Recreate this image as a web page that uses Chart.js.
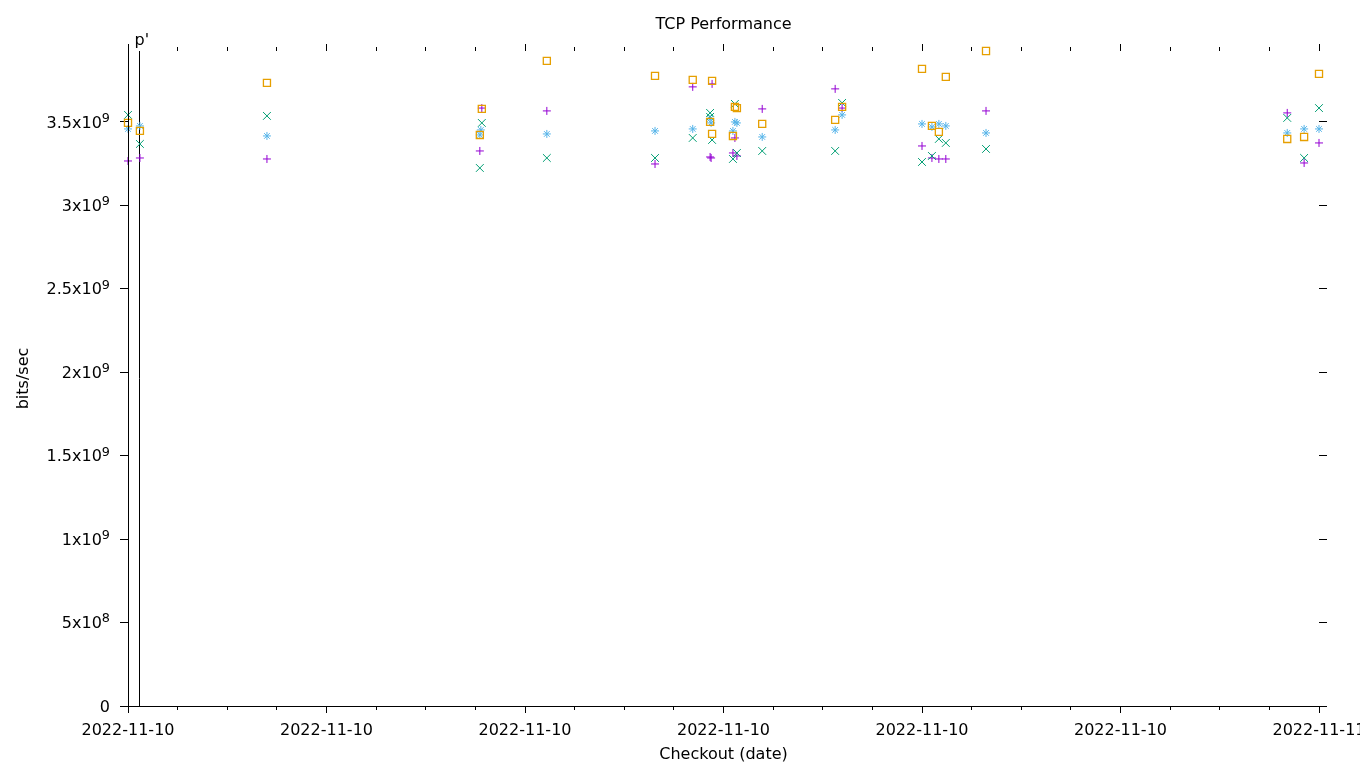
<!DOCTYPE html>
<html>
<head>
<meta charset="utf-8">
<title>TCP Performance</title>
<script src="https://cdn.jsdelivr.net/npm/chart.js@4.4.1/dist/chart.umd.min.js"></script>
<style>
    html, body { margin: 0; padding: 0; background: #fff; }
    #chart { display: block; }
</style>
</head>
<body>
<canvas id="chart" width="1360" height="768"></canvas>
<script>
// Hours since 2022-11-10 00:00 (one major x tick = 4 hours), values in bits/sec
const purpleHours = [0.00, 0.24, 2.80, 7.09, 7.13, 8.44, 10.62, 11.38, 11.73, 11.75, 11.77, 12.19, 12.23, 12.27, 12.78, 14.25, 14.39, 16.00, 16.20, 16.34, 16.48, 17.29, 23.36, 23.70, 24.00];
const purpleValues = [3.266e9, 3.284e9, 3.278e9, 3.326e9, 3.583e9, 3.566e9, 3.248e9, 3.710e9, 3.290e9, 3.284e9, 3.728e9, 3.314e9, 3.404e9, 3.296e9, 3.578e9, 3.698e9, 3.583e9, 3.356e9, 3.284e9, 3.278e9, 3.278e9, 3.566e9, 3.554e9, 3.254e9, 3.374e9];

const greenHours = [0.00, 0.24, 2.80, 7.09, 7.13, 8.44, 10.62, 11.38, 11.73, 11.73, 11.77, 12.19, 12.23, 12.27, 12.78, 14.25, 14.39, 16.00, 16.20, 16.34, 16.48, 17.29, 23.36, 23.70, 24.00];
const greenValues = [3.542e9, 3.368e9, 3.536e9, 3.224e9, 3.494e9, 3.284e9, 3.284e9, 3.404e9, 3.554e9, 3.530e9, 3.392e9, 3.278e9, 3.608e9, 3.314e9, 3.326e9, 3.326e9, 3.614e9, 3.260e9, 3.296e9, 3.398e9, 3.374e9, 3.338e9, 3.524e9, 3.284e9, 3.583e9];

const blueHours = [0.00, 0.24, 2.80, 7.09, 7.11, 8.44, 10.62, 11.38, 11.73, 11.75, 12.19, 12.23, 12.27, 12.78, 14.25, 14.39, 16.00, 16.20, 16.34, 16.48, 17.29, 23.36, 23.70, 24.00];
const blueValues = [3.458e9, 3.476e9, 3.416e9, 3.422e9, 3.452e9, 3.428e9, 3.446e9, 3.458e9, 3.518e9, 3.494e9, 3.446e9, 3.500e9, 3.494e9, 3.410e9, 3.452e9, 3.542e9, 3.488e9, 3.470e9, 3.488e9, 3.476e9, 3.434e9, 3.434e9, 3.458e9, 3.458e9];

const orangeHours = [0.00, 0.24, 2.80, 7.09, 7.13, 8.44, 10.62, 11.38, 11.73, 11.77, 11.77, 12.19, 12.23, 12.27, 12.78, 14.25, 14.39, 16.00, 16.20, 16.34, 16.48, 17.29, 23.36, 23.70, 24.00];
const orangeValues = [3.494e9, 3.446e9, 3.734e9, 3.422e9, 3.578e9, 3.866e9, 3.776e9, 3.752e9, 3.500e9, 3.746e9, 3.428e9, 3.416e9, 3.590e9, 3.583e9, 3.488e9, 3.512e9, 3.590e9, 3.818e9, 3.476e9, 3.440e9, 3.770e9, 3.925e9, 3.398e9, 3.410e9, 3.788e9];

// Axis ticks
const xTickHours = [0, 4, 8, 12, 16, 20, 24];
const xTickLabels = ['2022-11-10', '2022-11-10', '2022-11-10', '2022-11-10', '2022-11-10', '2022-11-10', '2022-11-11'];
const yTickValues = [0, 5e8, 1e9, 1.5e9, 2e9, 2.5e9, 3e9, 3.5e9];
// mantissa and power of ten for each y tick label
const yTickMantissas = ['0', '5', '1', '1.5', '2', '2.5', '3', '3.5'];
const yTickPowers = ['', '8', '9', '9', '9', '9', '9', '9'];

// Vertical marker line
const markerHour = 0.24;
const markerLabel = "p'";

const FONT = "'DejaVu Sans', sans-serif";

function toPoints(hours, values) {
    return hours.map((h, i) => ({ x: h, y: values[i] }));
}

// Draws the gnuplot-like extras: marker line, mirror/minor ticks, y labels and titles
const gnuplotFrame = {
    id: 'gnuplotFrame',
    beforeDatasetsDraw(chart) {
        const { ctx, chartArea, scales } = chart;
        const x = Math.floor(scales.x.getPixelForValue(markerHour)) + 0.5;
        ctx.save();
        ctx.strokeStyle = '#000';
        ctx.lineWidth = 1;
        ctx.beginPath();
        ctx.moveTo(x, chartArea.top);
        ctx.lineTo(x, chartArea.bottom);
        ctx.stroke();
        ctx.fillStyle = '#000';
        ctx.font = `16px ${FONT}`;
        ctx.textAlign = 'left';
        ctx.textBaseline = 'alphabetic';
        ctx.fillText(markerLabel, x - 5, chartArea.top - 6);
        ctx.restore();
    },
    afterDatasetsDraw(chart) {
        const { ctx, chartArea, scales } = chart;
        const { left, right, top, bottom } = chartArea;
        ctx.save();
        ctx.strokeStyle = '#000';
        ctx.lineWidth = 1;
        ctx.beginPath();
        // left border on top of the points
        ctx.moveTo(left + 0.5, top);
        ctx.lineTo(left + 0.5, bottom);
        // x ticks: major on top, minor top and bottom
        for (let h = 0; h <= 24; h++) {
            const px = Math.floor(scales.x.getPixelForValue(h)) + 0.5;
            if (h % 4 === 0) {
                ctx.moveTo(px, top);
                ctx.lineTo(px, top - 7);
            } else {
                ctx.moveTo(px, top);
                ctx.lineTo(px, top - 4);
                ctx.moveTo(px, bottom);
                ctx.lineTo(px, bottom + 4);
            }
        }
        // y mirror ticks on the right
        scales.y.ticks.forEach(t => {
            const py = Math.floor(scales.y.getPixelForValue(t.value)) + 0.5;
            ctx.moveTo(right, py);
            ctx.lineTo(right + 8, py);
        });
        ctx.stroke();

        ctx.fillStyle = '#000';
        // y tick labels with a raised exponent, right aligned against the ticks
        const labelRight = left - 18;
        ctx.textBaseline = 'middle';
        ctx.textAlign = 'right';
        scales.y.ticks.forEach(t => {
            const i = yTickValues.indexOf(t.value);
            const py = scales.y.getPixelForValue(t.value) + 1.5;
            const power = yTickPowers[i];
            let x = labelRight;
            if (power) {
                ctx.font = `12.8px ${FONT}`;
                ctx.fillText(power, x, py - 5);
                x -= ctx.measureText(power).width;
                ctx.font = `16px ${FONT}`;
                ctx.fillText(yTickMantissas[i] + 'x10', x, py);
            } else {
                ctx.font = `16px ${FONT}`;
                ctx.fillText(yTickMantissas[i], x, py);
            }
        });

        ctx.font = `16px ${FONT}`;
        ctx.textAlign = 'center';
        const cx = (left + right) / 2;
        ctx.fillText('TCP Performance', cx, 25);
        ctx.fillText('Checkout (date)', cx, 755);
        ctx.translate(24, (top + bottom) / 2);
        ctx.rotate(-Math.PI / 2);
        ctx.fillText('bits/sec', 0, 0);
        ctx.restore();
    }
};

const datasets = [
    {
        data: toPoints(purpleHours, purpleValues),
        pointStyle: 'cross', pointRadius: 4, borderColor: '#9400d3', borderWidth: 1
    },
    {
        data: toPoints(greenHours, greenValues),
        pointStyle: 'crossRot', pointRadius: 5.5, borderColor: '#009e73', borderWidth: 1
    },
    {
        data: toPoints(blueHours, blueValues),
        pointStyle: 'star', pointRadius: 4, borderColor: '#56b4e9', borderWidth: 1
    },
    {
        data: toPoints(orangeHours, orangeValues),
        pointStyle: 'rect', pointRadius: 5, borderColor: '#e69f00', borderWidth: 1.3,
        backgroundColor: 'rgba(0,0,0,0)'
    }
].map((d, i) => ({ ...d, pointBackgroundColor: 'rgba(0,0,0,0)', showLine: false, clip: false, order: 4 - i }));

Chart.defaults.font.family = FONT;
Chart.defaults.font.size = 16;
Chart.defaults.color = '#000';

new Chart(document.getElementById('chart').getContext('2d'), {
    type: 'scatter',
    data: { datasets },
    options: {
        responsive: false,
        devicePixelRatio: 1,
        animation: false,
        events: [],
        layout: { padding: { left: 0, top: 51, right: 41, bottom: 0 } },
        plugins: {
            legend: { display: false },
            tooltip: { enabled: false }
        },
        scales: {
            x: {
                type: 'linear',
                min: 0,
                max: 24,
                afterFit(scale) {
                    scale.height = 62;
                    scale.paddingLeft = 0;
                    scale.paddingRight = 0;
                },
                afterBuildTicks(scale) {
                    scale.ticks = xTickHours.map(v => ({ value: v }));
                },
                ticks: {
                    maxRotation: 0,
                    autoSkip: false,
                    padding: 8,
                    callback: (v) => xTickLabels[xTickHours.indexOf(v)]
                },
                grid: { drawOnChartArea: false, drawTicks: true, tickLength: 7, color: '#000' },
                border: { display: true, color: '#000', width: 1 }
            },
            y: {
                min: 0,
                max: 3.925e9,
                afterFit(scale) {
                    scale.width = 128;
                    scale.paddingTop = 0;
                    scale.paddingBottom = 0;
                },
                afterBuildTicks(scale) {
                    scale.ticks = yTickValues.map(v => ({ value: v }));
                },
                ticks: { display: false },
                grid: { drawOnChartArea: false, drawTicks: true, tickLength: 8, color: '#000' },
                border: { display: true, color: '#000', width: 1 }
            }
        }
    },
    plugins: [gnuplotFrame]
});
</script>
</body>
</html>
